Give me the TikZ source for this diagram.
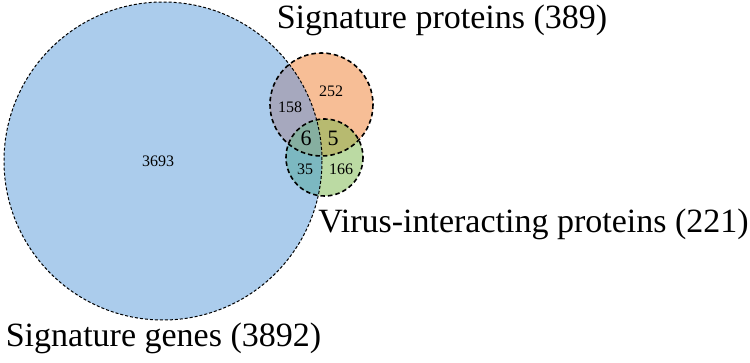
\documentclass[tikz,border=0pt]{standalone}
\usepackage{fontspec}
\setmainfont{Liberation Serif}
\definecolor{cA}{RGB}{171,204,236}
\definecolor{cB}{RGB}{247,190,150}
\definecolor{cC}{RGB}{187,218,163}
\definecolor{cAB}{RGB}{166,168,190}
\definecolor{cAC}{RGB}{124,184,193}
\definecolor{cBC}{RGB}{183,186,112}
\definecolor{cABC}{RGB}{134,175,160}
\begin{document}
\begin{tikzpicture}[x=1pt,y=-1pt,
  bigline/.style={draw=black,line width=1pt,dash pattern=on 3pt off 2pt},
  smallline/.style={draw=black,line width=1.6pt,dash pattern=on 4.5pt off 3pt},
  cnt/.style={inner sep=0pt,font=\fontsize{16}{18}\selectfont},
  cntbig/.style={inner sep=0pt,font=\fontsize{22}{24}\selectfont},
  setlabel/.style={inner sep=0pt,anchor=base,font=\fontsize{34}{40}\selectfont}]
\useasboundingbox (0,0) rectangle (750,363);
\def\cA{(163,161) circle[radius=159]}
\def\cB{(321.5,104.5) circle[radius=51.5]}
\def\cC{(324.5,157.5) circle[radius=38.5]}
% single regions
\fill[cA] \cA;
\fill[cB] \cB;
\fill[cC] \cC;
% pairwise
\begin{scope}\clip \cA; \fill[cAB] \cB; \fill[cAC] \cC; \end{scope}
\begin{scope}\clip \cB; \fill[cBC] \cC; \end{scope}
\begin{scope}\clip \cA; \clip \cB; \fill[cABC] \cC; \end{scope}
% outlines
\draw[bigline] \cA;
\draw[smallline] \cB;
\draw[smallline] \cC;
% counts
\node[cnt] (n3693) at (158,161) {3693};
\node[cnt] (n158) at (290,107) {158};
\node[cnt] (n252) at (331,91) {252};
\node[cntbig] (n6) at (306,138) {6};
\node[cntbig] (n5) at (333,138) {5};
\node[cnt] (n35) at (305,169) {35};
\node[cnt] (n166) at (341,169) {166};
% set labels
\node[setlabel] (lB) at (442,29) {Signature proteins (389)};
\node[setlabel] (lC) at (533.5,233) {Virus-interacting proteins (221)};
\node[setlabel] (lA) at (163.5,347) {Signature genes (3892)};
\end{tikzpicture}
\end{document}
